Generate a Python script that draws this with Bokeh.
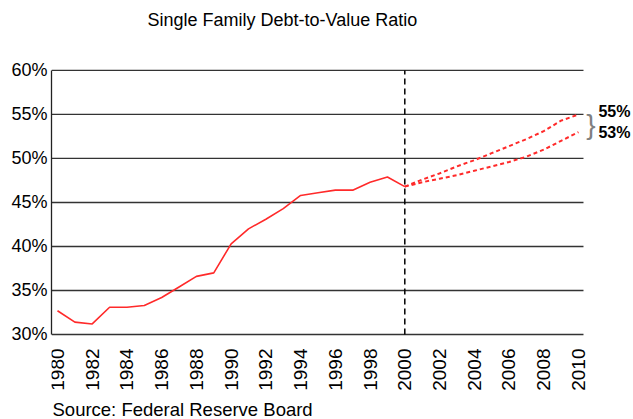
import math
from bokeh.plotting import figure
from bokeh.models import Range1d, FixedTicker, Label
from bokeh.embed import file_html
from bokeh.resources import INLINE

# ---- data ----
hist_years = list(range(1980, 2001))
hist_values = [32.7, 31.4, 31.2, 33.1, 33.1, 33.3, 34.2, 35.4, 36.6, 37.0, 40.3,
               42.0, 43.1, 44.3, 45.8, 46.1, 46.4, 46.4, 47.3, 47.9, 46.8]
proj_years = list(range(2000, 2011))
proj_high = [46.8, 47.6, 48.3, 49.1, 49.8, 50.6, 51.4, 52.2, 53.1, 54.3, 55.0]
proj_low = [46.8, 47.3, 47.7, 48.1, 48.6, 49.1, 49.6, 50.2, 51.0, 52.0, 53.0]
y_ticks = [30, 35, 40, 45, 50, 55, 60]
y_tick_labels = ["30%", "35%", "40%", "45%", "50%", "55%", "60%"]
x_ticks = list(range(1980, 2011, 2))
x_tick_labels = [str(y) for y in x_ticks]
end_labels = ["55%", "53%"]
divider_year = 2000
subtitle = "Single Family Debt-to-Value Ratio"
source = "Source: Federal Reserve Board"

FONT = "Liberation Sans"

X_START = 1979.655     # left edge of plotting area
GRID_END = 2010.29     # where the horizontal rules stop
X_END = 2013.17        # room on the right for the annotation
Y_TOP = 67.95          # room above the chart for the subtitle
Y_BOTTOM = 20.34       # room below the chart for year labels and source

p = figure(width=633, height=419,
           x_range=Range1d(X_START, X_END), y_range=Range1d(Y_BOTTOM, Y_TOP),
           output_backend="svg", toolbar_location=None,
           min_border_left=51, min_border_right=0,
           min_border_top=0, min_border_bottom=0)
p.outline_line_color = None
p.background_fill_color = "white"
p.border_fill_color = "white"
p.xgrid.grid_line_color = None
p.ygrid.grid_line_color = None

# horizontal rules (stop short of the annotation area)
p.segment(x0=[X_START] * len(y_ticks), x1=[GRID_END] * len(y_ticks),
          y0=y_ticks, y1=y_ticks, line_color="#333333", line_width=1.3)

p.yaxis.ticker = FixedTicker(ticks=y_ticks)
p.yaxis.bounds = (y_ticks[0], y_ticks[-1])
p.yaxis.major_label_overrides = dict(zip(y_ticks, y_tick_labels))
p.yaxis.major_tick_line_color = None
p.yaxis.major_tick_out = 0
p.yaxis.major_tick_in = 0
p.yaxis.minor_tick_line_color = None
p.yaxis.axis_line_color = "#222222"
p.yaxis.axis_line_width = 1.3
p.yaxis.major_label_text_font = FONT
p.yaxis.major_label_text_font_size = "18px"
p.yaxis.major_label_text_color = "black"
p.yaxis.major_label_standoff = 4

p.xaxis.fixed_location = y_ticks[0]
p.xaxis.ticker = FixedTicker(ticks=x_ticks)
p.xaxis.major_label_overrides = dict(zip(x_ticks, x_tick_labels))
p.xaxis.major_tick_line_color = None
p.xaxis.major_tick_out = 0
p.xaxis.major_tick_in = 0
p.xaxis.minor_tick_line_color = None
p.xaxis.axis_line_color = None
p.xaxis.major_label_orientation = math.pi / 2
p.xaxis.major_label_text_font = FONT
p.xaxis.major_label_text_font_size = "19px"
p.xaxis.major_label_text_color = "black"
p.xaxis.major_label_standoff = 14

# divider between history and projection
p.segment(x0=[divider_year], x1=[divider_year], y0=[y_ticks[0]], y1=[y_ticks[-1]],
          line_color="black", line_dash="6 4", line_width=1.5)

# lines
p.line(hist_years, hist_values, line_color="#ff2a2a", line_width=1.6)
p.line(proj_years, proj_high, line_color="#ff2a2a", line_width=2, line_dash="4 3")
p.line(proj_years, proj_low, line_color="#ff2a2a", line_width=2, line_dash="4 3")

# brace and end labels
p.add_layout(Label(x=2010.45, y=(proj_high[-1] + proj_low[-1]) / 2 - 0.1, text="}",
                   text_font=FONT, text_font_size="28px", text_color="#808080",
                   text_baseline="middle", text_align="left"))
p.add_layout(Label(x=2011.15, y=proj_high[-1] + 0.3, text=end_labels[0],
                   text_font=FONT, text_font_size="16px", text_font_style="bold",
                   text_color="black", text_baseline="middle"))
p.add_layout(Label(x=2011.15, y=proj_low[-1] - 0.1, text=end_labels[1],
                   text_font=FONT, text_font_size="16px", text_font_style="bold",
                   text_color="black", text_baseline="middle"))

# subtitle and source (inside the enlarged frame)
p.add_layout(Label(x=96, y=400, x_units="screen", y_units="screen", text=subtitle,
                   text_font=FONT, text_font_size="18px", text_color="black",
                   text_baseline="alphabetic"))
p.add_layout(Label(x=1, y=10, x_units="screen", y_units="screen", text=source,
                   text_font=FONT, text_font_size="18.5px", text_color="black",
                   text_baseline="alphabetic"))

open("out.html", "w").write(file_html(p, INLINE))
